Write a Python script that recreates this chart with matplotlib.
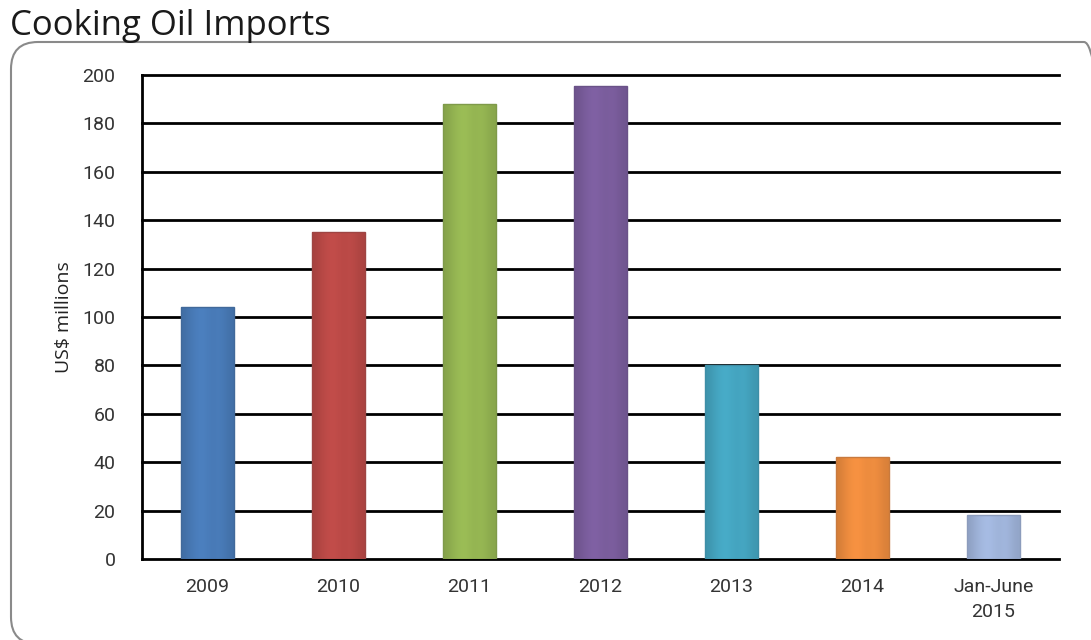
import matplotlib
matplotlib.use("Agg")
import matplotlib.pyplot as plt
import numpy as np
from matplotlib.colors import to_rgb
from matplotlib.patches import FancyBboxPatch

categories = ["2009", "2010", "2011", "2012", "2013", "2014", "Jan-June\n2015"]
values = [104, 135, 188, 195.5, 80, 42, 18]
colors = ["#4a7dbb", "#be4b48", "#98b954", "#7d5fa0", "#46a8c4", "#f28f40", "#a3b8df"]
edges = ["#41699a", "#9e4543", "#7f9a4a", "#6a5288", "#3e8ea6", "#c87a3e", "#8c9cbc"]
yticks = list(range(0, 201, 20))

plt.rcParams["font.family"] = ["Roboto", "DejaVu Sans"]

fig = plt.figure(figsize=(10.91, 6.40), dpi=100)

# Rounded frame around the chart area (in inches)
frame = FancyBboxPatch((0.11, -0.04), 11.0, 6.02,
                       boxstyle="round,pad=0,rounding_size=0.27",
                       transform=fig.dpi_scale_trans, facecolor="none",
                       edgecolor="#8a8a8a", linewidth=1.5, zorder=-1)
fig.patches.append(frame)

fig.text(10 / 1091, 1 - 26 / 640, "Cooking Oil Imports", fontsize=25,
         color="#1a1a1a", ha="left", va="center",
         family=["Open Sans", "DejaVu Sans"])

ax = fig.add_axes([142 / 1091, 81 / 640, 917 / 1091, 484 / 640])
ax.set_facecolor("none")
x = np.arange(len(categories))
width = 0.4
bars = ax.bar(x, values, width=width, color=colors, edgecolor=edges,
              linewidth=1.0, zorder=3)

# Soft horizontal shading inside each bar: slightly darker sides
prof = np.array([0.88, 0.95, 1.0, 1.03, 1.0, 0.97, 1.0, 0.95, 0.9])
for bar, c in zip(bars, colors):
    rgb = np.array(to_rgb(c))
    grad = np.clip(prof[:, None] * rgb[None, :], 0, 1)[None, :, :]
    x0 = bar.get_x()
    im = ax.imshow(grad, extent=(x0, x0 + bar.get_width(), 0, bar.get_height()),
                   aspect="auto", interpolation="bicubic", zorder=3.5)
    im.set_clip_path(bar)
    bar.set_facecolor("none")
    bar.set_zorder(4)

ax.set_xlim(-0.5, len(categories) - 0.5)
ax.set_ylim(0, 200)
ax.set_yticks(yticks)
ax.set_yticklabels([str(t) for t in yticks], fontsize=14, color="#333333")
ax.set_xticks(list(x))
ax.set_xticklabels(categories, fontsize=14, color="#333333", linespacing=1.45)
ax.tick_params(axis="both", length=0)
ax.tick_params(axis="y", pad=19)
ax.tick_params(axis="x", pad=14)

for t in yticks:
    ax.axhline(t, color="black", linewidth=2, zorder=1, clip_on=False)

for side in ["top", "right", "bottom"]:
    ax.spines[side].set_visible(False)
ax.spines["left"].set_linewidth(2)
ax.spines["left"].set_color("black")

ax.set_ylabel("US$ millions", fontsize=14, color="#222222", labelpad=7,
              family=["Open Sans", "DejaVu Sans"])

fig.savefig("out.png", dpi=100)
